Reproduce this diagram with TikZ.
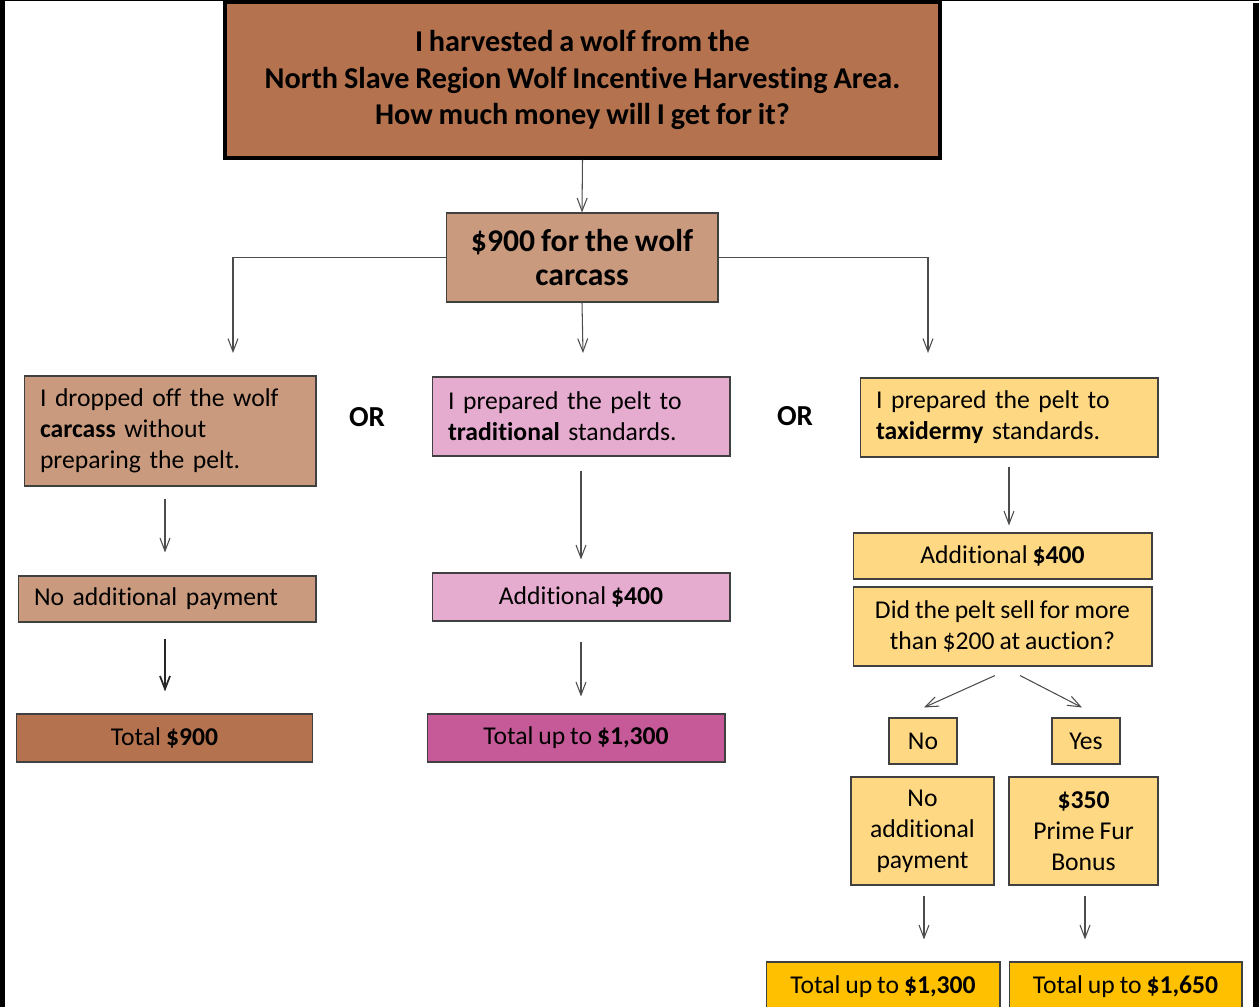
\documentclass[tikz,border=0pt]{standalone}
\usepackage{fontspec}
\setmainfont[Ligatures=NoCommon, WordSpace=0.85]{Carlito}
\usetikzlibrary{arrows.meta}
\definecolor{wolfbrown}{HTML}{B4734E}
\definecolor{carcassbrown}{HTML}{C99A7E}
\definecolor{tradpink}{HTML}{E5ACCF}
\definecolor{tradtotal}{HTML}{C65A98}
\definecolor{taxiyellow}{HTML}{FFD883}
\definecolor{taxitotal}{HTML}{FFC000}

\begin{document}
\begin{tikzpicture}[x=0.02cm, y=-0.02cm,
    box/.style={draw=black!75, line width=0.6pt, inner sep=0pt, minimum height=0.92cm,
      font=\fontsize{14.6}{17.6}\selectfont},
    leftbox/.style={box, align=left, inner xsep=0.32cm},
    midbox/.style={box, align=center},
    orlabel/.style={font=\bfseries\fontsize{16.5}{19}\selectfont},
    arr/.style={draw=black!70, line width=0.6pt, -{Straight Barb[length=2.6mm,width=2mm]}}]
    \useasboundingbox (0,0) rectangle (1259,1007);
    \fill[black] (0,0) rectangle (5,1007);
    \fill[black] (1253,3) rectangle (1259,1007);
    \fill[black] (0,0) rectangle (1259,1.5);

    \node[midbox, draw=black, line width=2pt, fill=wolfbrown, minimum width=14.3cm, minimum height=3.12cm,
      font=\bfseries\fontsize{17.2}{20.7}\selectfont] (harvest) at (582.5,80)
      {I harvested a wolf from the\\North Slave Region Wolf Incentive Harvesting Area.\\How much money will I get for it?};
    \node[midbox, fill=carcassbrown, minimum width=5.44cm, minimum height=1.78cm,
      font=\bfseries\fontsize{18}{19.8}\selectfont] (carcass) at (582,257.5)
      {\$900 for the wolf\\carcass};

    \node[leftbox, fill=carcassbrown, text width=5.2cm, minimum height=2.2cm] (dropped) at (170,431)
      {I dropped off the wolf\\\textbf{carcass} without\\preparing the pelt.};
    \node[leftbox, fill=tradpink, text width=5.32cm, minimum height=1.58cm] (traditional) at (581,416.5)
      {I prepared the pelt to\\\textbf{traditional} standards.};
    \node[leftbox, fill=taxiyellow, text width=5.32cm, minimum height=1.58cm] (taxidermy) at (1009,417.5)
      {I prepared the pelt to\\\textbf{taxidermy} standards.};
    \node[orlabel] (or1) at (367,417) {OR};
    \node[orlabel] (or2) at (795,416) {OR};

    \node[leftbox, fill=carcassbrown, text width=5.32cm] (nopay) at (167,599) {No additional payment};
    \node[midbox, fill=wolfbrown, minimum width=5.94cm, minimum height=0.96cm] (total900) at (164.5,738)
      {Total \textbf{\$900}};

    \node[midbox, fill=tradpink, minimum width=5.96cm, minimum height=0.96cm] (tradadd) at (581,597)
      {Additional \textbf{\$400}};
    \node[midbox, fill=tradtotal, minimum width=5.96cm, minimum height=0.96cm] (tradtot) at (576,738)
      {Total up to \textbf{\$1,300}};

    \node[midbox, fill=taxiyellow, minimum width=5.98cm] (taxiadd) at (1002.5,556)
      {Additional \textbf{\$400}};
    \node[midbox, fill=taxiyellow, minimum width=5.98cm, minimum height=1.58cm] (auction) at (1002.5,626.5)
      {Did the pelt sell for more\\than \$200 at auction?};
    \node[midbox, fill=taxiyellow, minimum width=1.36cm] (no) at (923,741) {No};
    \node[midbox, fill=taxiyellow, minimum width=1.36cm] (yes) at (1086,741) {Yes};
    \node[midbox, fill=taxiyellow, minimum width=2.86cm, minimum height=2.16cm] (nobonus) at (922.5,831)
      {No\\additional\\payment};
    \node[midbox, fill=taxiyellow, minimum width=2.98cm, minimum height=2.16cm] (bonus) at (1083.5,831)
      {\textbf{\$350}\\Prime Fur\\Bonus};
    \node[midbox, fill=taxitotal, minimum width=4.68cm, minimum height=1.0cm] (taxitot1) at (883,987)
      {Total up to \textbf{\$1,300}};
    \node[midbox, fill=taxitotal, minimum width=4.66cm, minimum height=1.0cm] (taxitot2) at (1125.5,987)
      {Total up to \textbf{\$1,650}};

    \coordinate (lefttip) at (233,353);
    \coordinate (midtip) at (583,353);
    \coordinate (righttip) at (928,353);

    \draw[arr] (harvest.south) -- (carcass.north);
    \draw[arr] (carcass.west) -| (lefttip);
    \draw[arr] (carcass.south) -- (midtip);
    \draw[arr] (carcass.east) -| (righttip);
    \draw[arr] ([shift={(-5,12)}]dropped.south) -- ([shift={(-5,-23)}]dropped.south |- nopay.north);
    \draw[arr, line width=1pt, draw=black!85] ([shift={(-2,16)}]nopay.south) -- ([shift={(-2,-22)}]nopay.south |- total900.north);
    \draw[arr] ([yshift=-0.28cm]traditional.south) -- ([yshift=0.26cm]traditional.south |- tradadd.north);
    \draw[arr] ([yshift=-0.4cm]tradadd.south) -- ([yshift=0.34cm]tradadd.south |- tradtot.north);
    \draw[arr] ([yshift=-0.18cm]taxidermy.south) -- ([yshift=0.14cm]taxidermy.south |- taxiadd.north);
    \draw[arr] ([shift={(-7.5,9)}]auction.south) -- ([shift={(1,-10)}]no.north);
    \draw[arr] ([shift={(17.5,9)}]auction.south) -- ([shift={(-4,-10)}]yes.north);
    \draw[arr] ([shift={(1.5,10)}]nobonus.south) -- ([shift={(1.5,-22)}]nobonus.south |- taxitot1.north);
    \draw[arr] ([shift={(1.5,10)}]bonus.south) -- ([shift={(1.5,-22)}]bonus.south |- taxitot2.north);
\end{tikzpicture}
\end{document}
